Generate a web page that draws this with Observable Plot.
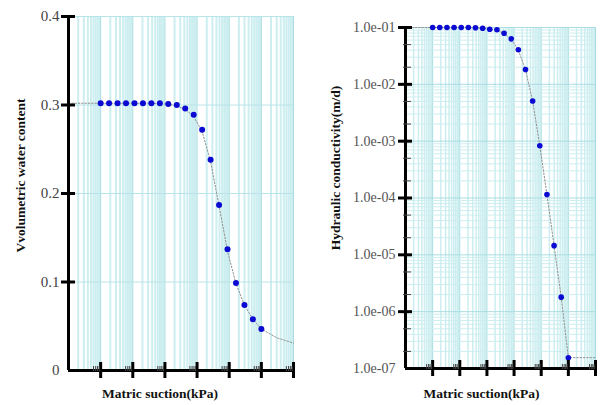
<!DOCTYPE html>
<html><head><meta charset="utf-8">
<script src="https://cdn.jsdelivr.net/npm/d3@7"></script>
<script src="https://cdn.jsdelivr.net/npm/@observablehq/plot@0.6"></script>
<style>
body{margin:0;background:#fff;}
#wrap{display:flex;width:601px;height:405px;overflow:hidden;}
#wrap svg{display:block;}
</style></head><body><div id="wrap"></div>
<script>
// Measured points (matric suction in kPa)
const suction = [1, 1.83, 3.36, 6.16, 11.3, 20.7, 37.9, 69.5, 127, 234, 428, 785, 1438, 2637, 4833, 8859, 16238, 29764, 54556, 100000];
const theta = [0.302, 0.302, 0.302, 0.302, 0.302, 0.302, 0.302, 0.302, 0.301, 0.300, 0.296, 0.289, 0.272, 0.238, 0.187, 0.137, 0.099, 0.074, 0.058, 0.047];
const conductivity = [0.1, 0.1, 0.1, 0.1, 0.1, 0.1, 0.0989, 0.0973, 0.0933, 0.0912, 0.0794, 0.0631, 0.0407, 0.0182, 0.0051, 8.3e-4, 1.15e-4, 1.45e-5, 1.8e-6, 1.55e-7];
// Fitted curves
const fitSuctionTheta = [0.1, 1, 37.9, 127, 234, 428, 785, 1438, 2637, 4833, 8859, 16238, 29764, 54556, 100000, 300000, 1000000];
const fitTheta = [0.302, 0.302, 0.302, 0.301, 0.299, 0.295, 0.287, 0.270, 0.236, 0.186, 0.135, 0.098, 0.074, 0.058, 0.047, 0.037, 0.031];
const fitSuctionK = [0.1, 1, 37.9, 127, 234, 428, 785, 1438, 2637, 4833, 8859, 16238, 29764, 54556, 100000, 1000000];
const fitK = [0.1, 0.1, 0.099, 0.094, 0.089, 0.079, 0.062, 0.040, 0.018, 0.0051, 8.3e-4, 1.15e-4, 1.45e-5, 1.8e-6, 1.55e-7, 1.55e-7];
// Ticks
const suctionDomain = [0.1, 1e6];
const suctionTicks = [1, 10, 100, 1e3, 1e4, 1e5, 1e6];
const thetaTicks = [0, 0.1, 0.2, 0.3, 0.4];
const kTicks = [1e-7, 1e-6, 1e-5, 1e-4, 1e-3, 1e-2, 1e-1];
const kMinorTicks = [2e-7, 5e-7, 2e-6, 5e-6, 2e-5, 5e-5, 2e-4, 5e-4, 2e-3, 5e-3, 2e-2, 5e-2];

const minorX = d3.scaleLog().domain(suctionDomain).ticks().filter(d => !suctionTicks.includes(d) && d > 0.1);
const minorXTicks = minorX.filter(d => { const m = Math.round(d / Math.pow(10, Math.floor(Math.log10(d) + 1e-9))); return m >= 6; });
const minorY = d3.scaleLog().domain([1e-7, 1e-1]).ticks().filter(d => !kTicks.some(t => Math.abs(t - d) / t < 1e-6));

const serif = "'Liberation Serif', 'DejaVu Serif', serif";
const gridC = "#cdeef0", gridD = "#a9dde1";
const blue = "#0a0ad2";

const fitA = fitSuctionTheta.map((s, i) => ({s, v: fitTheta[i]}));
const ptsA = suction.map((s, i) => ({s, v: theta[i]}));
const fitB = fitSuctionK.map((s, i) => ({s, v: fitK[i]}));
const ptsB = suction.map((s, i) => ({s, v: conductivity[i]}));

// Left panel
const L = {w: 300, ml: 68, mr: 7, mt: 16, mb: 35};
const Lpw = L.w - L.ml - L.mr, Lph = 405 - L.mt - L.mb;
const left = Plot.plot({
  width: L.w, height: 405, marginLeft: L.ml, marginRight: L.mr, marginTop: L.mt, marginBottom: L.mb,
  x: {type: "log", domain: suctionDomain, axis: null},
  y: {domain: [0, 0.4], axis: null},
  style: {fontFamily: serif, background: "transparent", overflow: "visible"},
  marks: [
    Plot.ruleX(minorX, {stroke: gridC, strokeWidth: 2}),
    Plot.ruleX(suctionTicks, {stroke: gridD, strokeWidth: 1}),
    Plot.ruleY(thetaTicks.filter(d => d > 0), {stroke: "#b9e4e7", strokeWidth: 1}),
    Plot.line(fitA, {x: "s", y: "v", stroke: "#8f8f8f", strokeWidth: 1, strokeDasharray: "1.5,1.8"}),
    Plot.dot(ptsA, {x: "s", y: "v", r: 3, fill: blue}),
    Plot.ruleX([0.1], {stroke: "black", strokeWidth: 3}),
    Plot.ruleY([0], {stroke: "black", strokeWidth: 3}),
    Plot.tickX(suctionTicks, {x: d => d, stroke: "black", strokeWidth: 3, insetTop: Lph - 8, insetBottom: -8}),
    Plot.tickX(minorXTicks, {x: d => d, stroke: "#444", strokeWidth: 1, insetTop: Lph - 4, insetBottom: -1}),
    Plot.tickY(thetaTicks.filter(d => d > 0), {y: d => d, stroke: "black", strokeWidth: 3, insetLeft: -7, insetRight: Lpw - 7}),
    Plot.axisY(thetaTicks, {tickSize: 0, tickPadding: 9, fontSize: 15, fill: "#444", tickFormat: d => d === 0 ? "0" : d.toFixed(1), label: null}),
    Plot.text(["Vvolumetric water content"], {frameAnchor: "left", textAnchor: "middle", rotate: -90, dx: -48, dy: -18, fontWeight: "bold", fontSize: 13.5, fill: "#111"}),
    Plot.text(["Matric suction(kPa)"], {frameAnchor: "bottom", textAnchor: "middle", dy: 27, dx: -21, fontWeight: "bold", fontSize: 13.5, fill: "#111"})
  ]
});

// Right panel
const R = {w: 301, ml: 105, mr: 6, mt: 27, mb: 37};
const Rpw = R.w - R.ml - R.mr, Rph = 405 - R.mt - R.mb;
const fmtE = d => d.toExponential(1).replace(/e([+-])(\d)$/, "e$10$2");
const right = Plot.plot({
  width: R.w, height: 405, marginLeft: R.ml, marginRight: R.mr, marginTop: R.mt, marginBottom: R.mb,
  x: {type: "log", domain: suctionDomain, axis: null},
  y: {type: "log", domain: [1e-7, 1e-1], axis: null},
  style: {fontFamily: serif, background: "transparent", overflow: "visible"},
  marks: [
    Plot.ruleX(minorX, {stroke: gridC, strokeWidth: 1.5}),
    Plot.ruleX(suctionTicks, {stroke: gridD, strokeWidth: 1}),
    Plot.ruleY(minorY, {stroke: gridC, strokeWidth: 1}),
    Plot.ruleY(kTicks.filter(d => d > 1e-7), {stroke: gridD, strokeWidth: 1}),
    Plot.line(fitB, {x: "s", y: "v", stroke: "#8f8f8f", strokeWidth: 1, strokeDasharray: "1.5,1.8"}),
    Plot.dot(ptsB, {x: "s", y: "v", r: 2.8, fill: blue}),
    Plot.ruleX([0.1], {stroke: "black", strokeWidth: 3}),
    Plot.ruleY([1e-7], {stroke: "black", strokeWidth: 3}),
    Plot.tickX(suctionTicks, {x: d => d, stroke: "black", strokeWidth: 3, insetTop: Rph - 8, insetBottom: -8}),
    Plot.tickX(minorXTicks, {x: d => d, stroke: "#444", strokeWidth: 1, insetTop: Rph - 4, insetBottom: -1}),
    Plot.tickY(kTicks.filter(d => d > 1e-7), {y: d => d, stroke: "black", strokeWidth: 3, insetLeft: -7, insetRight: Rpw - 7}),
    Plot.tickY(kMinorTicks, {y: d => d, stroke: "#444", strokeWidth: 1, insetLeft: -2, insetRight: Rpw - 6}),
    Plot.axisY(kTicks, {tickSize: 0, tickPadding: 10, fontSize: 14, fill: "#555", tickFormat: fmtE, label: null}),
    Plot.text(["Hydraulic conductivity(m/d)"], {frameAnchor: "left", textAnchor: "middle", rotate: -90, dx: -70, dy: -30, fontWeight: "bold", fontSize: 13.5, fill: "#111"}),
    Plot.text(["Matric suction(kPa)"], {frameAnchor: "bottom", textAnchor: "middle", dy: 29, dx: -19, fontWeight: "bold", fontSize: 13.5, fill: "#111"})
  ]
});

document.getElementById("wrap").append(left, right);
</script></body></html>
